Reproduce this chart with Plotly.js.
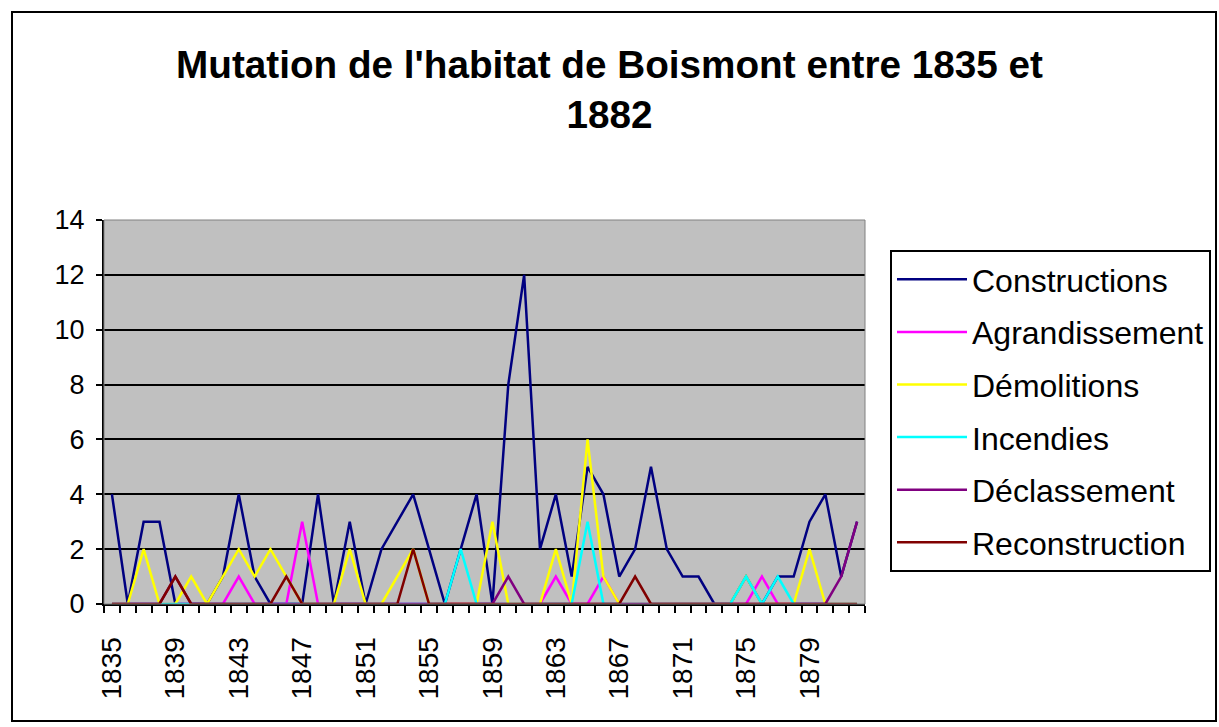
<!DOCTYPE html>
<html>
<head>
<meta charset="utf-8">
<script src="https://cdn.plot.ly/plotly-3.0.1.min.js"></script>
<style>html,body{margin:0;padding:0;background:#fff;}</style>
</head>
<body>
<div id="chart" style="width:1219px;height:727px;"></div>
<script>
const years = [1835,1836,1837,1838,1839,1840,1841,1842,1843,1844,1845,1846,1847,1848,1849,1850,
  1851,1852,1853,1854,1855,1856,1857,1858,1859,1860,1861,1862,1863,1864,1865,1866,
  1867,1868,1869,1870,1871,1872,1873,1874,1875,1876,1877,1878,1879,1880,1881,1882];
const tickYears = [1835,1839,1843,1847,1851,1855,1859,1863,1867,1871,1875,1879];

const constructions  = [4,0,3,3,0,0,0,1,4,1,0,0,0,4,0,3, 0,2,3,4,2,0,2,4,0,8,12,2,4,1,5,4, 1,2,5,2,1,1,0,0,1,0,1,1,3,4,1,3];
const agrandissement = [0,0,0,0,0,0,0,0,1,0,0,0,3,0,0,0, 0,0,0,0,0,0,0,0,0,0,0,0,1,0,0,1, 0,0,0,0,0,0,0,0,0,1,0,0,0,0,0,0];
const demolitions    = [0,0,2,0,0,1,0,1,2,1,2,1,0,0,0,2, 0,0,1,2,0,0,0,0,3,0,0,0,2,0,6,1, 0,0,0,0,0,0,0,0,1,0,0,0,2,0,0,0];
const incendies      = [0,0,0,0,0,0,0,0,0,0,0,0,0,0,0,0, 0,0,0,0,0,0,2,0,0,0,0,0,0,0,3,0, 0,0,0,0,0,0,0,0,1,0,1,0,0,0,0,0];
const declassement   = [0,0,0,0,1,0,0,0,0,0,0,0,0,0,0,0, 0,0,0,0,0,0,0,0,0,1,0,0,0,0,0,0, 0,0,0,0,0,0,0,0,0,0,0,0,0,0,1,3];
const reconstruction = [0,0,0,0,1,0,0,0,0,0,0,1,0,0,0,0, 0,0,0,2,0,0,0,0,0,0,0,0,0,0,0,0, 0,1,0,0,0,0,0,0,0,0,0,0,0,0,0,0];

const seriesNames  = ["Constructions","Agrandissement","Démolitions","Incendies","Déclassement","Reconstruction"];
const seriesValues = [constructions, agrandissement, demolitions, incendies, declassement, reconstruction];
const seriesColors = ["#000080","#FF00FF","#FFFF00","#00FFFF","#800080","#800000"];

const FONT = "Liberation Sans, Arial, Helvetica, sans-serif";

const traces = seriesNames.map((name, i) => ({
  type: "scatter",
  mode: "lines",
  name: name,
  x: years,
  y: seriesValues[i],
  legendgroup: "g" + i,
  line: {color: seriesColors[i], width: 2.5}
}));

const L = 104, R = 865, T = 220, B = 604;
const px2x = p => (p - L) / (R - L);
const px2y = p => (B - p) / (B - T);

const layout = {
  width: 1219,
  height: 727,
  margin: {l: L, r: 1219 - R, t: T, b: 727 - B, pad: 0, autoexpand: false},
  paper_bgcolor: "#FFFFFF",
  plot_bgcolor: "#C0C0C0",
  font: {family: FONT, color: "#000"},
  title: {
    text: "Mutation de l'habitat de Boismont entre 1835 et<br>1882",
    font: {family: FONT, size: 38.7, color: "#000", weight: 700},
    x: 0.5, xref: "container", xanchor: "center",
    y: 1 - 78 / 727, yref: "container", yanchor: "top"
  },
  showlegend: true,
  legend: {
    x: px2x(890), y: px2y(250), xanchor: "left", yanchor: "top",
    bgcolor: "#FFFFFF", bordercolor: "#000", borderwidth: 2,
    font: {family: FONT, size: 32, color: "#000"},
    itemwidth: 70,
    traceorder: "grouped", tracegroupgap: 8
  },
  xaxis: {
    range: [1834.5, 1882.5],
    tickmode: "array", tickvals: tickYears, ticktext: tickYears.map(String),
    tickangle: -90, ticks: "", showgrid: false, zeroline: false,
    showline: true, linecolor: "#000", linewidth: 2,
    tickfont: {family: FONT, size: 28, color: "#000"},
    ticklabelstandoff: 20,
    minor: {tick0: 1834.5, dtick: 1, ticks: "outside", ticklen: 7, tickwidth: 2, tickcolor: "#000", showgrid: false},
    fixedrange: true
  },
  yaxis: {
    range: [0, 14], tick0: 0, dtick: 2,
    showgrid: true, gridcolor: "#000", gridwidth: 2,
    ticks: "outside", ticklen: 6, tickwidth: 2, tickcolor: "#000",
    showline: true, linecolor: "#000", linewidth: 2, zeroline: false,
    tickfont: {family: FONT, size: 27, color: "#000"},
    ticklabelstandoff: 6,
    fixedrange: true
  },
  shapes: [
    {type: "rect", xref: "paper", yref: "paper", x0: 0, x1: 1, y0: 0, y1: 1,
     line: {color: "#808080", width: 1}, layer: "above"},
    {type: "rect", xref: "paper", yref: "paper",
     x0: px2x(12), x1: px2x(1216), y0: px2y(721), y1: px2y(12),
     line: {color: "#000", width: 2}, layer: "above"}
  ]
};

Plotly.newPlot("chart", traces, layout, {displayModeBar: false, staticPlot: true});
</script>
</body>
</html>
